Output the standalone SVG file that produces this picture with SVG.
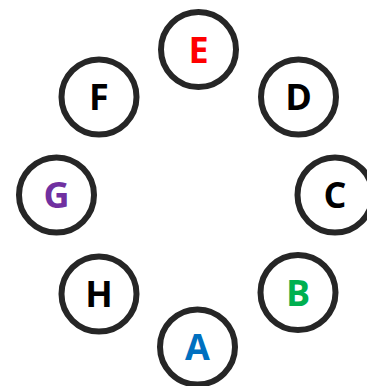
<svg xmlns="http://www.w3.org/2000/svg" width="367" height="386" viewBox="0 0 367 386">
<style>
.n circle{fill:#fff;stroke:#262626;stroke-width:6}
.n text{font-family:"Open Sans","Liberation Sans",sans-serif;font-weight:bold;font-size:36px;text-anchor:middle}
</style>
<rect width="367" height="386" fill="#fff"/>
<g id="connectors"/>
<g id="E" class="n"><circle cx="198.5" cy="49.5" r="37.5"/><text x="198.5" y="63" fill="#FF0000">E</text></g>
<g id="D" class="n"><circle cx="298.5" cy="97" r="37.5"/><text x="298.5" y="110" fill="#000">D</text></g>
<g id="C" class="n"><circle cx="335" cy="195" r="37.5"/><text x="335" y="208" fill="#000">C</text></g>
<g id="B" class="n"><circle cx="298" cy="292.5" r="37.5"/><text x="298" y="305.5" fill="#00B050">B</text></g>
<g id="A" class="n"><circle cx="197.5" cy="347" r="37.5"/><text x="197.5" y="360" fill="#0070C0">A</text></g>
<g id="H" class="n"><circle cx="99" cy="294" r="37.5"/><text x="99" y="307" fill="#000">H</text></g>
<g id="G" class="n"><circle cx="56.5" cy="195" r="37.5"/><text x="56.5" y="208" fill="#7030A0">G</text></g>
<g id="F" class="n"><circle cx="99" cy="97" r="37.5"/><text x="99" y="110" fill="#000">F</text></g>
</svg>
